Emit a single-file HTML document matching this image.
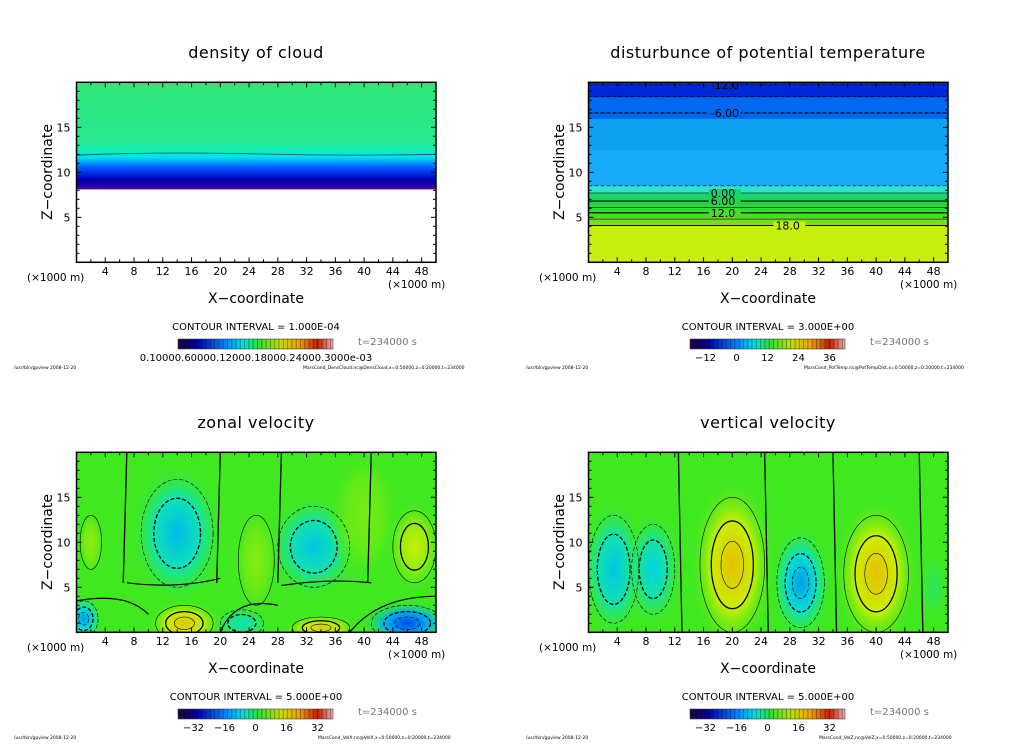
<!DOCTYPE html>
<html><head><meta charset="utf-8"><style>
body{margin:0;background:#fff;width:1024px;height:740px;overflow:hidden}
svg text{font-family:"DejaVu Sans","Liberation Sans",sans-serif}
</style></head><body>
<svg id="fig" width="1024" height="740" viewBox="0 0 1024 740" xmlns="http://www.w3.org/2000/svg">
<defs>
<linearGradient id="cloudG" x1="0" y1="1" x2="0" y2="0">
<stop offset="0" stop-color="#6000a8"/><stop offset="0.04" stop-color="#1800a0"/><stop offset="0.1" stop-color="#0000c0"/><stop offset="0.2" stop-color="#0058ff"/><stop offset="0.3" stop-color="#00e0f0"/><stop offset="0.36" stop-color="#10eeb8"/><stop offset="0.46" stop-color="#28e890"/><stop offset="1" stop-color="#30e878"/></linearGradient>
<linearGradient id="cmap" x1="0" y1="0" x2="1" y2="0">
<stop offset="0" stop-color="#200040"/><stop offset="0.12" stop-color="#0000a0"/><stop offset="0.3" stop-color="#0080ff"/><stop offset="0.42" stop-color="#00e0e0"/><stop offset="0.52" stop-color="#30e030"/><stop offset="0.66" stop-color="#c0e000"/><stop offset="0.78" stop-color="#f0a000"/><stop offset="0.9" stop-color="#c02000"/><stop offset="1" stop-color="#f0b0b0"/></linearGradient>
<pattern id="stripes" width="4.3" height="10" patternUnits="userSpaceOnUse"><rect x="3.3" width="1" height="10" fill="rgba(0,0,0,0.35)"/></pattern>
</defs>
</svg>
<script>
// ---- data ----
const xTicks=[4,8,12,16,20,24,28,32,36,40,44,48];
const zTicks=[5,10,15];
const titles=["density of cloud","disturbunce of potential temperature","zonal velocity","vertical velocity"];
const intervals=["CONTOUR INTERVAL = 1.000E-04","CONTOUR INTERVAL = 3.000E+00","CONTOUR INTERVAL = 5.000E+00","CONTOUR INTERVAL = 5.000E+00"];
const cbLabels1=["0.10000.60000.12000.18000.24000.3000e-03"];
const cbLabels2=["-12","0","12","24","36"];
const cbLabels3=["-32","-16","0","16","32"];
const footers=["MarsCond_DensCloud.nc@DensCloud,x=0:50000,z=0:20000,t=234000","MarsCond_PotTemp.nc@PotTempDist,x=0:50000,z=0:20000,t=234000","MarsCond_VelX.nc@VelX,x=0:50000,z=0:20000,t=234000","MarsCond_VelZ.nc@VelZ,x=0:50000,z=0:20000,t=234000"];
// potential temperature layers
const tempLayerBottoms=[0,4.3,5.0,5.7,6.4,7.1,7.8,8.6,12.5,16.0,18.4];
const tempLayerColors=["#c8ee10","#70e020","#48dc28","#30d838","#20d448","#18d470","#30e0d0","#18aaf8","#10a0f0","#0068f0","#0028d8"];
const tempLineZ=[4.1,4.8,5.5,6.1,6.8,7.7,8.5,16.6,18.4,19.7];
const tempLineLbl=["18.0","","12.0","","6.00","0.00","","-6.00","","-12.0"];
const tempLineLblX=[26,0,17,0,17,17,0,17,0,17];
// velocity blobs: x(km), z(km), rx, rz, value
const zonalX=[14,33,47,15,34,46,1,23,2,40,25];
const zonalZ=[11,9.5,9.5,1,0.5,1,1.5,1,10,13,8];
const zonalRX=[5,5,3,4,4,5,2,3,1.5,4,2.5];
const zonalRZ=[6,4.5,4,2,1.2,2,2,1.5,3,6,5];
const zonalV=[-13,-12,10,16,15,-22,-15,-8,6,4,5];
const vertX=[3.5,9,20,29.5,40,48];
const vertZ=[7,7,7.5,5.5,6.5,5];
const vertRX=[3.5,3,4.5,3.3,4.5,1.5];
const vertRZ=[6,5,7.5,5,6.5,3];
const vertV=[-12,-11,17,-15,17,-3];

const cstops=[[-40,[32,0,64]],[-30,[0,0,160]],[-20,[0,90,255]],[-10,[0,225,225]],[0,[64,232,32]],[10,[200,240,0]],[20,[245,170,0]],[30,[210,50,0]],[40,[240,170,170]]];
function cmap(v){for(let i=0;i<cstops.length-1;i++){const a=cstops[i],b=cstops[i+1];if(v<=b[0]){const t=Math.max(0,(v-a[0])/(b[0]-a[0]));return 'rgb('+a[1].map((c,k)=>Math.round(c+(b[1][k]-c)*t)).join(',')+')';}}return 'rgb(240,170,170)';}
const NS='http://www.w3.org/2000/svg';
const svg=document.getElementById('fig');
function mk(tag,attrs,parent,txt){const e=document.createElementNS(NS,tag);for(const k in attrs)e.setAttribute(k,attrs[k]);if(txt!==undefined)e.textContent=txt;(parent||svg).appendChild(e);return e;}
function layerAt(z){let idx=0;tempLayerBottoms.forEach((b,i)=>{if(b<=z)idx=i;});return idx;}
const offs=[[0,0],[512,0],[0,370],[512,370]];
let gid=0;
offs.forEach((o,pi)=>{
  const ox=o[0],oy=o[1];
  const g=mk('g',{});
  
  
  const X0=76.5+ox,X1=436+ox,Y0=82.3+oy,Y1=262.3+oy;
  const sx=x=>X0+x*(X1-X0)/50, sz=z=>Y1-z*(Y1-Y0)/20;
  const clipId='clip'+pi;
  const cp=mk('clipPath',{id:clipId},g);mk('rect',{x:X0,y:Y0,width:X1-X0,height:Y1-Y0},cp);
  const plot=mk('g',{'clip-path':'url(#'+clipId+')'},g);
  
  
  if(pi===0){
    mk('rect',{x:X0,y:sz(20),width:X1-X0,height:sz(8.1)-sz(20),fill:'url(#cloudG)'},plot);
    mk('path',{d:'M'+X0+' '+sz(11.9)+' Q'+sx(12)+' '+sz(12.3)+' '+sx(25)+' '+sz(12.05)+' T'+X1+' '+sz(12),fill:'none',stroke:'#205050','stroke-width':0.8},plot);
  } else if(pi===1){
    tempLayerBottoms.forEach((zb,i)=>{const zt=i<tempLayerBottoms.length-1?tempLayerBottoms[i+1]:20;
      const r=mk('rect',{x:X0,y:sz(zt),width:X1-X0,height:sz(zb)-sz(zt)+0.5,fill:tempLayerColors[i]},plot);
      });
    tempLineZ.forEach((z,i)=>{const dashed=z>8;
      const l=mk('line',{x1:X0,x2:X1,y1:sz(z),y2:sz(z),stroke:'#000','stroke-width':(i%2===0&&!dashed)||i===7?1.1:0.6,'stroke-dasharray':dashed?'4,2':'none'},plot);
      
      if(tempLineLbl[i]){const tx=sx(tempLineLblX[i]);mk('rect',{x:tx-2,y:sz(z)-4,width:32,height:8,fill:tempLayerColors[layerAt(z)]},plot);
        mk('text',{x:tx,y:sz(z)+4,'font-size':11},plot,tempLineLbl[i]);}
    });
  } else {
    const bx=pi===2?zonalX:vertX,bz=pi===2?zonalZ:vertZ,brx=pi===2?zonalRX:vertRX,brz=pi===2?zonalRZ:vertRZ,bv=pi===2?zonalV:vertV;
    mk('rect',{x:X0,y:Y0,width:X1-X0,height:Y1-Y0,fill:cmap(0)},plot);
    bx.forEach((x,i)=>{
      const id='rg'+(gid++);
      const rg=mk('radialGradient',{id:id},plot);
      mk('stop',{offset:0,'stop-color':cmap(bv[i])},rg);
      mk('stop',{offset:0.5,'stop-color':cmap(bv[i]*0.6)},rg);
      mk('stop',{offset:1,'stop-color':cmap(0),'stop-opacity':0},rg);
      const e=mk('ellipse',{cx:sx(x),cy:sz(bz[i]),rx:brx[i]*7.19*1.3,ry:brz[i]*9*1.3,fill:'url(#'+id+')'},plot);
      
    });
    bx.forEach((x,i)=>{
      [1.0,0.65,0.35].forEach((f,k)=>{
        if(Math.abs(bv[i])*f<5)return;
        const e=mk('ellipse',{cx:sx(x),cy:sz(bz[i]),rx:brx[i]*7.19*f,ry:brz[i]*9*f,fill:'none',stroke:'#000','stroke-width':k===1?1.3:0.6,'stroke-dasharray':bv[i]<0?'4,2':'none'},plot);
        
      });
    });
    if(pi===3){[12.5,24.5,34,46].forEach(x=>{mk('line',{x1:sx(x),x2:sx(x+0.5),y1:Y0,y2:Y1,stroke:'#000','stroke-width':1.3},plot);});}
    else{[7,20,28.5,41].forEach(x=>{mk('line',{x1:sx(x),x2:sx(x-0.5),y1:Y0,y2:sz(5.5),stroke:'#000','stroke-width':1.3},plot);});
      mk('path',{d:'M'+sx(7)+' '+sz(5.5)+' Q'+sx(14)+' '+sz(4.8)+' '+sx(20)+' '+sz(6)+' M'+sx(28.5)+' '+sz(5.2)+' Q'+sx(35)+' '+sz(6)+' '+sx(41)+' '+sz(5.5),fill:'none',stroke:'#000','stroke-width':1.2},plot);
      mk('path',{d:'M'+X0+' '+sz(3.5)+' Q'+sx(7)+' '+sz(4.5)+' '+sx(10)+' '+sz(2)+' M'+sx(20)+' '+sz(0)+' Q'+sx(22)+' '+sz(4)+' '+sx(28)+' '+sz(3)+' M'+sx(38)+' '+sz(0)+' Q'+sx(42)+' '+sz(4)+' '+X1+' '+sz(4),fill:'none',stroke:'#000','stroke-width':1.2},plot);}
  }
  const fr=mk('rect',{x:X0,y:Y0,width:X1-X0,height:Y1-Y0,fill:'none',stroke:'#000','stroke-width':1.5},g);
  
  for(let x=2;x<50;x+=2){const L=x%4===0?5:3;
    mk('line',{x1:sx(x),x2:sx(x),y1:Y1,y2:Y1-L,stroke:'#000','stroke-width':1},g);
    mk('line',{x1:sx(x),x2:sx(x),y1:Y0,y2:Y0+L,stroke:'#000','stroke-width':1},g);}
  for(let z=1;z<20;z++){const L=z%5===0?5:3;
    mk('line',{x1:X0,x2:X0+L,y1:sz(z),y2:sz(z),stroke:'#000','stroke-width':1},g);
    mk('line',{x1:X1,x2:X1-L,y1:sz(z),y2:sz(z),stroke:'#000','stroke-width':1},g);}
  xTicks.forEach(x=>{const t=mk('text',{x:sx(x),y:275+oy,'font-size':11,'text-anchor':'middle'},g,x);});
  zTicks.forEach(z=>{const t=mk('text',{x:X0-6,y:sz(z)+4,'font-size':11,'text-anchor':'end'},g,z);});
  const t1=mk('text',{x:256+ox,y:58+oy,'font-size':16,'text-anchor':'middle','letter-spacing':'0.5'},g,titles[pi]);
  
  mk('text',{x:27+ox,y:281+oy,'font-size':10.5},g,'(×1000 m)');
  mk('text',{x:388+ox,y:288+oy,'font-size':10.5},g,'(×1000 m)');
  const xl=mk('text',{x:256+ox,y:303+oy,'font-size':14,'text-anchor':'middle'},g,'X−coordinate');
  
  const zl=mk('text',{x:0,y:0,'font-size':14,'text-anchor':'middle',transform:'translate('+(52+ox)+','+(172+oy)+') rotate(-90)'},g,'Z−coordinate');
  
  mk('text',{x:256+ox,y:330+oy,'font-size':10,'text-anchor':'middle'},g,intervals[pi]);
  const cb=mk('rect',{x:178+ox,y:339+oy,width:155,height:10,fill:'url(#cmap)',stroke:'#444','stroke-width':0.6},g);
  
  mk('rect',{x:178+ox,y:339+oy,width:155,height:10,fill:'url(#stripes)'},g);
  mk('text',{x:358+ox,y:345+oy,'font-size':10,fill:'#777'},g,'t=234000 s');
  if(pi===0){mk('text',{x:256+ox,y:361+oy,'font-size':10,'text-anchor':'middle'},g,cbLabels1[0]);}
  else{const labs=pi===1?cbLabels2:cbLabels3;const lo=pi===1?-18:-40,hi=pi===1?42:40;
    labs.forEach(l=>{const v=parseFloat(l);mk('text',{x:178+ox+(v-lo)/(hi-lo)*155,y:361+oy,'font-size':10,'text-anchor':'middle'},g,l.replace('-','−'));});}
  mk('text',{x:14+ox,y:369+oy,'font-size':4.5},g,'/usr/bin/gpview   2008-12-20');
  mk('text',{x:(pi%2?292:303)+ox+(pi>1?15:0),y:369+oy,'font-size':4.5},g,footers[pi]);
});
</script>
</body></html>
